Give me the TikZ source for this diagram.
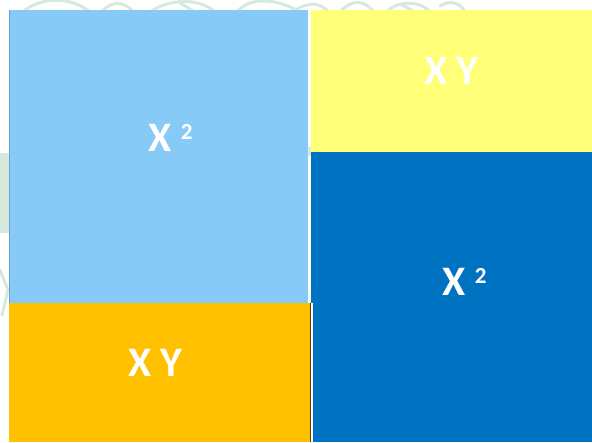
\documentclass[tikz,border=0pt]{standalone}
\usepackage{fontspec}
\setmainfont{Carlito}
\definecolor{lblue}{RGB}{135,202,248}
\definecolor{dblue}{RGB}{0,114,194}
\definecolor{pyellow}{RGB}{255,255,120}
\definecolor{porange}{RGB}{255,192,0}
\definecolor{wmark}{RGB}{214,234,219}
\begin{document}
\begin{tikzpicture}[x=1pt,y=-1pt,
  tile/.style={draw=none,inner sep=0pt,outer sep=0pt,anchor=north west},
  lbl/.style={inner sep=0pt,anchor=base west,text=white,font=\fontsize{42}{42}\selectfont\bfseries},
  sup/.style={},
  wm/.style={draw=wmark,line width=3pt,line cap=round}]
\useasboundingbox (0,0) rectangle (592,442);
% faint watermark behind the tiles
\begin{scope}
\clip (0,0) rectangle (592,10) (0,0) rectangle (9,442) (306,0) rectangle (313,442);
\draw[wm] (20,14) .. controls (40,-4) and (70,-4) .. (90,12);
\draw[wm] (100,14) .. controls (110,0) and (125,0) .. (135,14);
\draw[wm] (150,12) .. controls (170,-2) and (200,-2) .. (215,12);
\draw[wm] (235,14) .. controls (250,-6) and (280,0) .. (300,12);
\draw[wm] (290,14) .. controls (305,2) and (320,0) .. (330,14);
\draw[wm] (340,12) .. controls (350,0) and (365,-2) .. (375,14);
\draw[wm] (385,14) .. controls (395,0) and (420,0) .. (430,12);
\draw[wm] (400,4) -- (415,12);
\draw[wm] (180,3) -- (195,12);
\draw[wm] (440,6) .. controls (450,0) and (460,2) .. (465,12);
\fill[wmark] (0,153) rectangle (9,233);
\draw[wm] (0,270) -- (8,290) -- (2,315);
\fill[wmark] (308,147) rectangle (311,156);
\end{scope}
% tiles
\node[tile,fill=lblue,minimum width=299pt,minimum height=293pt] (sqa) at (9,10) {};
\node[tile,fill=pyellow,minimum width=281pt,minimum height=142pt] (rya) at (311,10) {};
\node[tile,fill=dblue,minimum width=281pt,minimum height=290pt] (sqb) at (311,152) {};
\node[tile,fill=porange,minimum width=301pt,minimum height=139pt] (roa) at (9,303) {};
\fill[white] ([xshift=1pt]roa.north east) rectangle ([xshift=3pt]roa.south east);
\draw[black!70!porange,line width=1pt] (roa.north east) -- (roa.south east);
\draw[lblue!80!black,line width=0.6pt] (sqa.north west) -- (sqa.south west);
% labels
\newcommand{\supsq}{{\fontsize{23}{23}\selectfont\raisebox{12pt}{2}}}
\node[lbl] (ta) at (148,151) {X \supsq};
\node[lbl] (tb) at (442,295) {X \supsq};
\node[lbl] (tc) at (424,84) {X Y};
\node[lbl] (td) at (128,376) {X Y};
\end{tikzpicture}
\end{document}
